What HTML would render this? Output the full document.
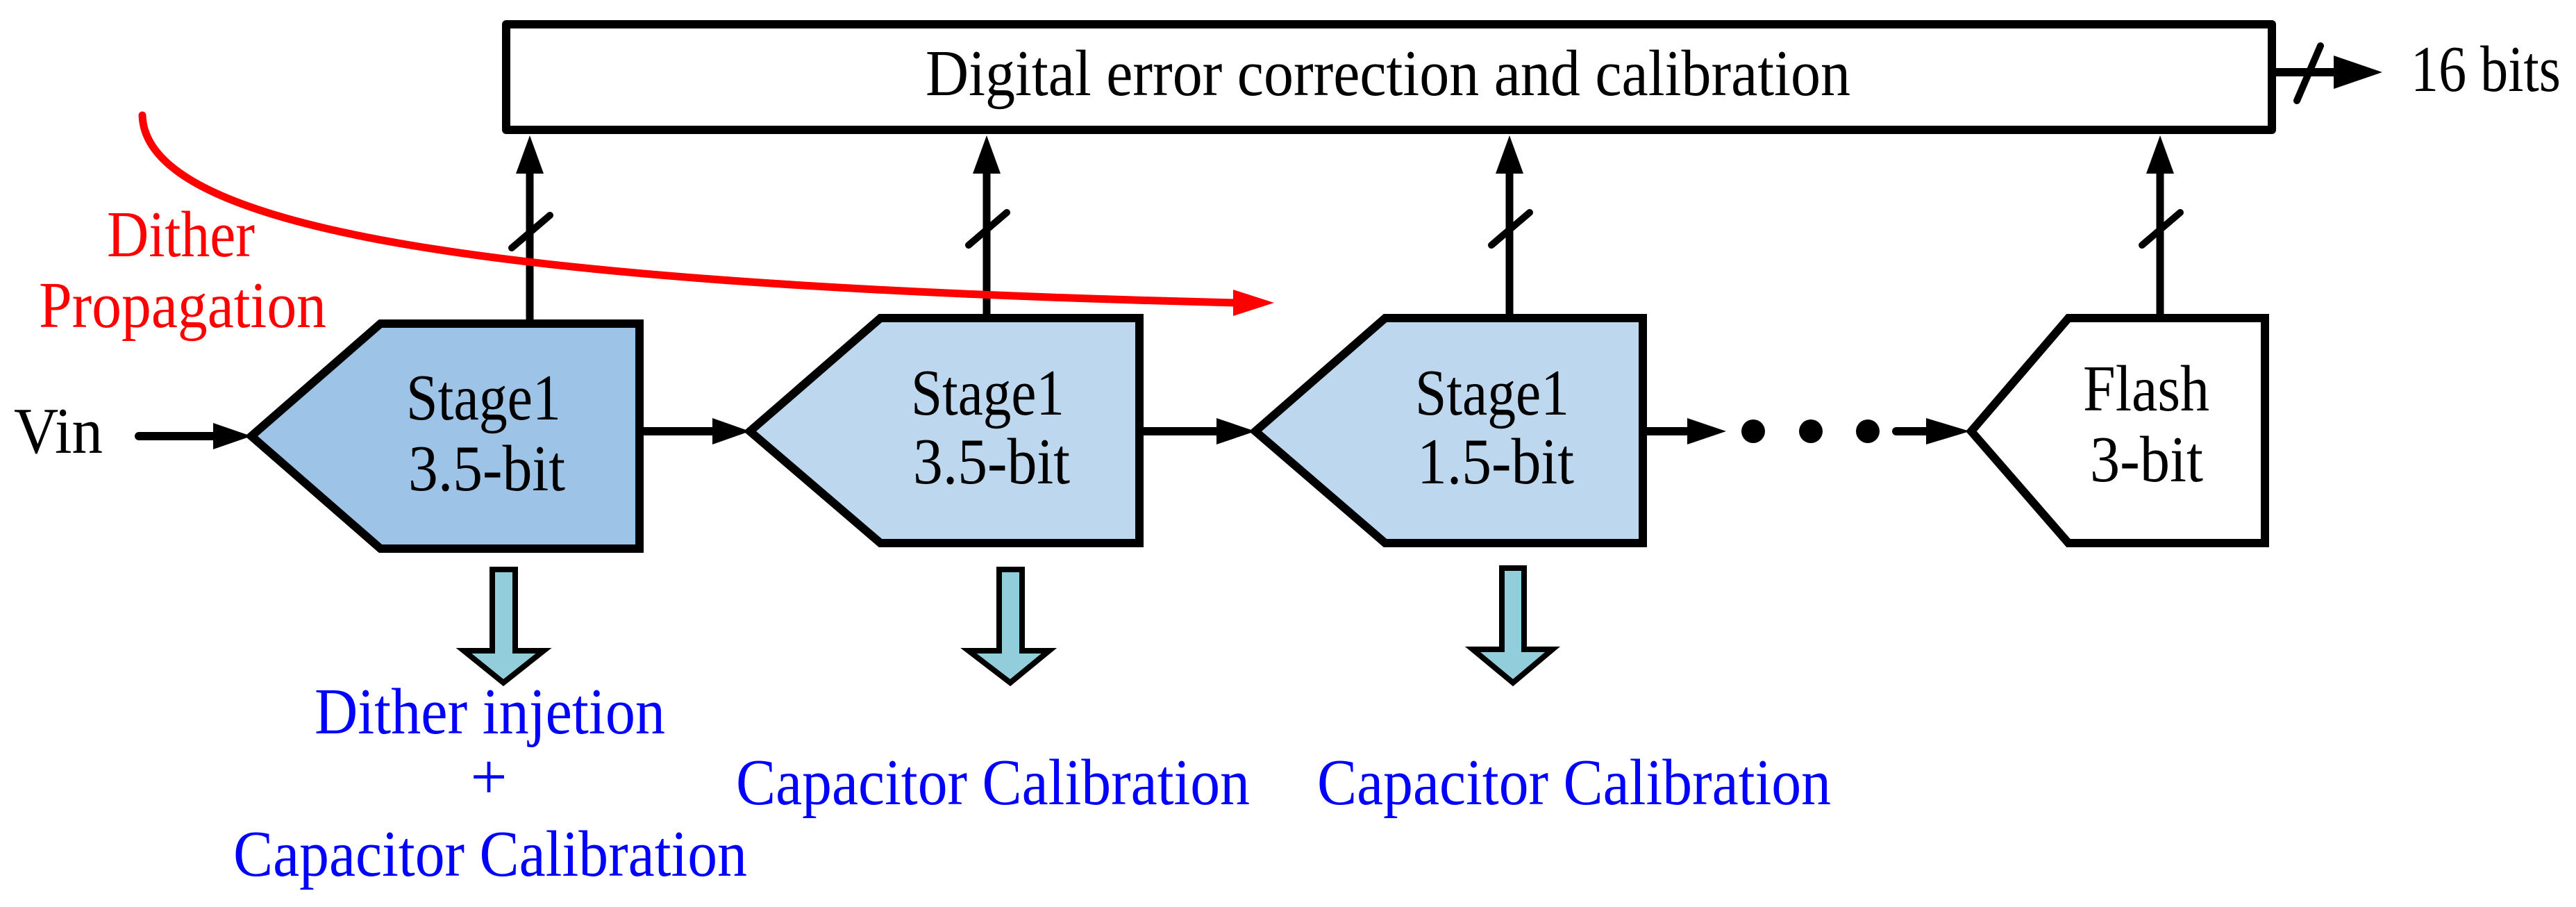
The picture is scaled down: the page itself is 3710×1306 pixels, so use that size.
<!DOCTYPE html>
<html><head><meta charset="utf-8"><style>
html,body{margin:0;padding:0;background:#fff;width:3710px;height:1306px;overflow:hidden}
svg{display:block}
text{font-family:"Liberation Serif","Times New Roman","DejaVu Serif",serif;font-size:94px}
</style></head><body>
<svg width="3710" height="1306" viewBox="0 0 3710 1306" xmlns="http://www.w3.org/2000/svg" font-family="Liberation Serif, Times New Roman, serif">
<rect x="729" y="35" width="2543" height="152" fill="#fff" stroke="#000" stroke-width="12" stroke-linejoin="round"/>
<text x="1333" y="137" textLength="1332" lengthAdjust="spacingAndGlyphs">Digital error correction and calibration</text>
<line x1="3272" y1="104" x2="3370" y2="104" stroke="#000" stroke-width="12"/>
<polygon points="3361,80 3431,104 3361,128" fill="#000"/>
<line x1="3308" y1="145" x2="3342" y2="66" stroke="#000" stroke-width="10" stroke-linecap="round"/>
<text x="3472" y="131" textLength="216" lengthAdjust="spacingAndGlyphs">16 bits</text>

<g stroke="#000" stroke-width="11">
<line x1="763" y1="466" x2="763" y2="240"/>
<line x1="1421" y1="458" x2="1421" y2="240"/>
<line x1="2174" y1="458" x2="2174" y2="240"/>
<line x1="3111" y1="458" x2="3111" y2="240"/>
</g>
<g fill="#000">
<polygon points="763,195 783,250 743,250"/>
<polygon points="1421,195 1441,250 1401,250"/>
<polygon points="2174,195 2194,250 2154,250"/>
<polygon points="3111,195 3131,250 3091,250"/>
</g>
<g stroke="#000" stroke-width="10" stroke-linecap="round">
<line x1="737" y1="357" x2="792" y2="310"/>
<line x1="1395" y1="353" x2="1450" y2="306"/>
<line x1="2148" y1="353" x2="2203" y2="306"/>
<line x1="3085" y1="353" x2="3140" y2="306"/>
</g>

<path d="M205,166 C210,330 700,410 1780,436" fill="none" stroke="#f00" stroke-width="11" stroke-linecap="round"/>
<polygon points="1776,417 1835,436 1776,455" fill="#f00"/>
<text x="154" y="369" fill="#f00" textLength="213" lengthAdjust="spacingAndGlyphs">Dither</text>
<text x="56" y="471" fill="#f00" textLength="414" lengthAdjust="spacingAndGlyphs">Propagation</text>

<polygon points="362,628 548,466 921,466 921,790 548,790" fill="#9DC3E6" stroke="#000" stroke-width="12"/>
<polygon points="1080,621 1268,458 1641,458 1641,782 1268,782" fill="#BDD7EE" stroke="#000" stroke-width="12"/>
<polygon points="1808,621 1995,458 2366,458 2366,782 1995,782" fill="#BDD7EE" stroke="#000" stroke-width="12"/>
<polygon points="2839,621 2979,458 3262,458 3262,782 2979,782" fill="#fff" stroke="#000" stroke-width="12"/>

<text x="585" y="604" textLength="223" lengthAdjust="spacingAndGlyphs">Stage1</text>
<text x="588" y="706" textLength="226" lengthAdjust="spacingAndGlyphs">3.5-bit</text>
<text x="1312" y="597" textLength="221" lengthAdjust="spacingAndGlyphs">Stage1</text>
<text x="1315" y="696" textLength="226" lengthAdjust="spacingAndGlyphs">3.5-bit</text>
<text x="2038" y="597" textLength="222" lengthAdjust="spacingAndGlyphs">Stage1</text>
<text x="2041" y="696" textLength="226" lengthAdjust="spacingAndGlyphs">1.5-bit</text>
<text x="3000" y="591" textLength="182" lengthAdjust="spacingAndGlyphs">Flash</text>
<text x="3010" y="693" textLength="163" lengthAdjust="spacingAndGlyphs">3-bit</text>

<text x="20" y="652" textLength="128" lengthAdjust="spacingAndGlyphs">Vin</text>
<g stroke="#000" stroke-width="12" stroke-linecap="round">
<line x1="200" y1="628" x2="310" y2="628"/>
<line x1="927" y1="621" x2="1030" y2="621"/>
<line x1="1647" y1="621" x2="1755" y2="621"/>
<line x1="2372" y1="621" x2="2432" y2="621"/>
<line x1="2731" y1="621" x2="2776" y2="621"/>
</g>
<g fill="#000">
<polygon points="307,609 362,628 307,647"/>
<polygon points="1026,602 1080,621 1026,640"/>
<polygon points="1752,602 1808,621 1752,640"/>
<polygon points="2430,602 2486,621 2430,640"/>
<polygon points="2774,602 2837,621 2774,640"/>
<ellipse cx="2525" cy="621" rx="17" ry="17"/>
<ellipse cx="2608" cy="621" rx="17" ry="17"/>
<ellipse cx="2690" cy="621" rx="17" ry="17"/>
</g>

<g fill="#92CDDC" stroke="#000" stroke-width="8" stroke-linejoin="miter">
<polygon points="709,820 742,820 742,937 783,937 725,983 668,937 709,937"/>
<polygon points="1439,820 1472,820 1472,937 1511,937 1455,983 1395,937 1439,937"/>
<polygon points="2163,818 2195,818 2195,935 2236,935 2179,983 2121,935 2163,935"/>
</g>

<g fill="#0000ff">
<text x="453" y="1056" textLength="505" lengthAdjust="spacingAndGlyphs">Dither injetion</text>
<text x="704" y="1150" text-anchor="middle">+</text>
<text x="336" y="1261" textLength="740" lengthAdjust="spacingAndGlyphs">Capacitor Calibration</text>
<text x="1060" y="1158" textLength="740" lengthAdjust="spacingAndGlyphs">Capacitor Calibration</text>
<text x="1897" y="1158" textLength="740" lengthAdjust="spacingAndGlyphs">Capacitor Calibration</text>
</g>
</svg>
</body></html>
